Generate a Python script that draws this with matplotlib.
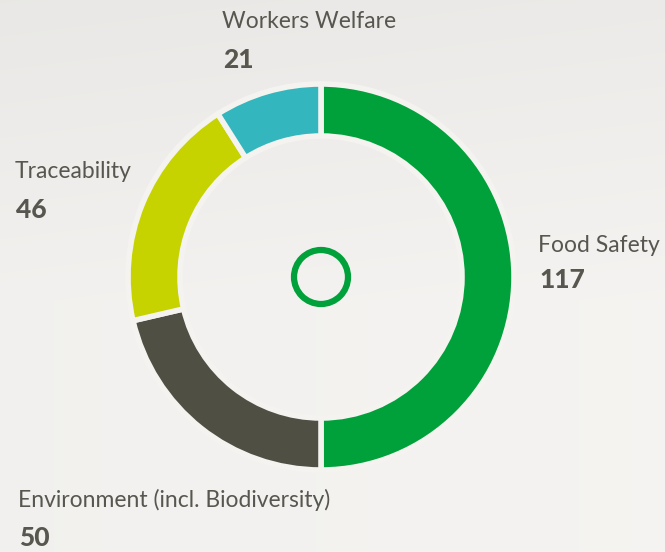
import numpy as np
import matplotlib.pyplot as plt

labels = ["Food Safety", "Environment (incl. Biodiversity)", "Traceability", "Workers Welfare"]
values = [117, 50, 46, 21]
colors = ["#00a13a", "#4f4f44", "#c6d300", "#33b6bd"]

bg = "#efeeeb"
txt = "#57574f"

fig = plt.figure(figsize=(6.65, 5.52), dpi=100)
fig.patch.set_facecolor(bg)
ax = fig.add_axes([0, 0, 1, 1])

# soft background shading (top a bit darker, like the blurred photo)
yy, xx = np.mgrid[0:552, 0:665]
shade = 0.915 + 0.035 * np.clip(yy / 300, 0, 1) + 0.01 * np.clip(xx / 665, 0, 1)
ax.imshow(np.dstack([shade * 0.998, shade * 0.994, shade * 0.985]), extent=[0, 665, 552, 0],
          zorder=0, aspect="auto")

# y axis runs downward, so counterclockwise in data is clockwise on screen
cx, cy, R = 321, 277, 193
ax.pie(values, colors=colors, startangle=-90, counterclock=True, center=(cx, cy), radius=R,
       wedgeprops=dict(width=52, edgecolor="#f4f3f0", linewidth=4), frame=True)
ax.set_xlim(0, 665)
ax.set_ylim(552, 0)
ax.set_aspect("equal")
ax.axis("off")

ax.add_patch(plt.Circle((cx, cy), 27, fill=False, edgecolor="#00a13a", linewidth=4.5, zorder=5))

font = "Lato"
label_pos = {
    "Food Safety": (538, 245, 280),
    "Environment (incl. Biodiversity)": (18, 500, 538),
    "Traceability": (15, 172, 210),
    "Workers Welfare": (222, 22, 60),
}
for lab, val in zip(labels, values):
    x, y1, y2 = label_pos[lab]
    ax.text(x, y1, lab, ha="left", va="center", fontsize=16.5, color=txt, family=font)
    ax.text(x + 1, y2, str(val), ha="left", va="center", fontsize=19, color=txt, family=font,
            fontweight="black")

fig.savefig("out.png", dpi=100, facecolor=bg)
